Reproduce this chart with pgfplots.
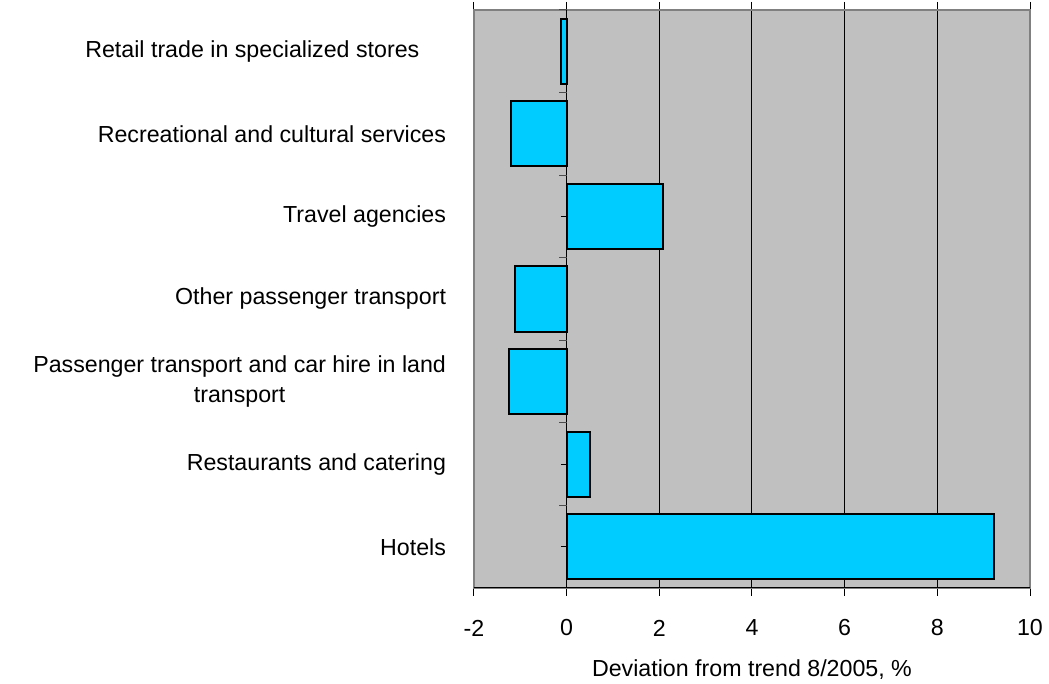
\documentclass[border=0pt]{standalone}
\usepackage{fontspec}
\setmainfont{Liberation Sans}
\usepackage{pgfplots}
\pgfplotsset{compat=1.18}
\definecolor{plotbg}{HTML}{C0C0C0}
\definecolor{barfill}{HTML}{00CCFF}
\definecolor{framegray}{HTML}{808080}
\begin{document}
\fontsize{17.4}{23}\selectfont
\begin{tikzpicture}
\path[use as bounding box] (-355.5pt,-72pt) rectangle (431.25pt,441pt);
\begin{axis}[
  at={(0,0)}, anchor=south west,
  scale only axis, width=417pt, height=433.5pt,
  xbar, bar width=0.79, bar shift=0pt,
  xmin=-2, xmax=10, ymin=-0.5, ymax=6.5,
  xtick={-2,0,...,10},
  /pgf/number format/assume math mode=true,
  xmajorgrids, grid style={black, line width=0.75pt},
  axis background/.style={fill=plotbg},
  axis line style={framegray, line width=1.5pt},
  tick align=outside, major tick length=6pt,
  x tick style={black, line width=0.75pt},
  ytick={0,...,6},
  yticklabels={Hotels, Restaurants and catering, {Passenger transport and car hire in land\\transport}, Other passenger transport, Travel agencies, Recreational and cultural services, {Retail trade in specialized stores\hspace*{20pt}}},
  y tick style={draw=none},
  yticklabel style={align=center, anchor=east, xshift=-9pt},
  xticklabel style={anchor=center, yshift=-24pt, at={(0,0)}},
  xlabel={Deviation from trend 8/2005, \%},
  xlabel style={at={(axis description cs:0.5,-0.142)}, anchor=center},
  font=\fontsize{17.4}{23}\selectfont,
]
\draw[black, line width=1pt] (axis cs:0,-0.5) -- (axis cs:0,6.5);
\pgfplotsinvokeforeach{0,...,6}{\draw[black, line width=0.75pt] (axis cs:0,#1) -- ++(-4.5pt,0pt);}
\pgfplotsinvokeforeach{-0.5,0.5,...,6.5}{\draw[black!70, line width=0.75pt] (axis cs:0,#1) -- ++(-6pt,0pt);}
\addplot[fill=barfill, draw=black, line width=1.5pt] coordinates {
  (9.23,0) (0.50,1) (-1.24,2) (-1.12,3) (2.07,4) (-1.20,5) (-0.13,6)
};
\draw[black, line width=1pt] (rel axis cs:0,0) -- (rel axis cs:1,0);
\end{axis}
\end{tikzpicture}
\end{document}
